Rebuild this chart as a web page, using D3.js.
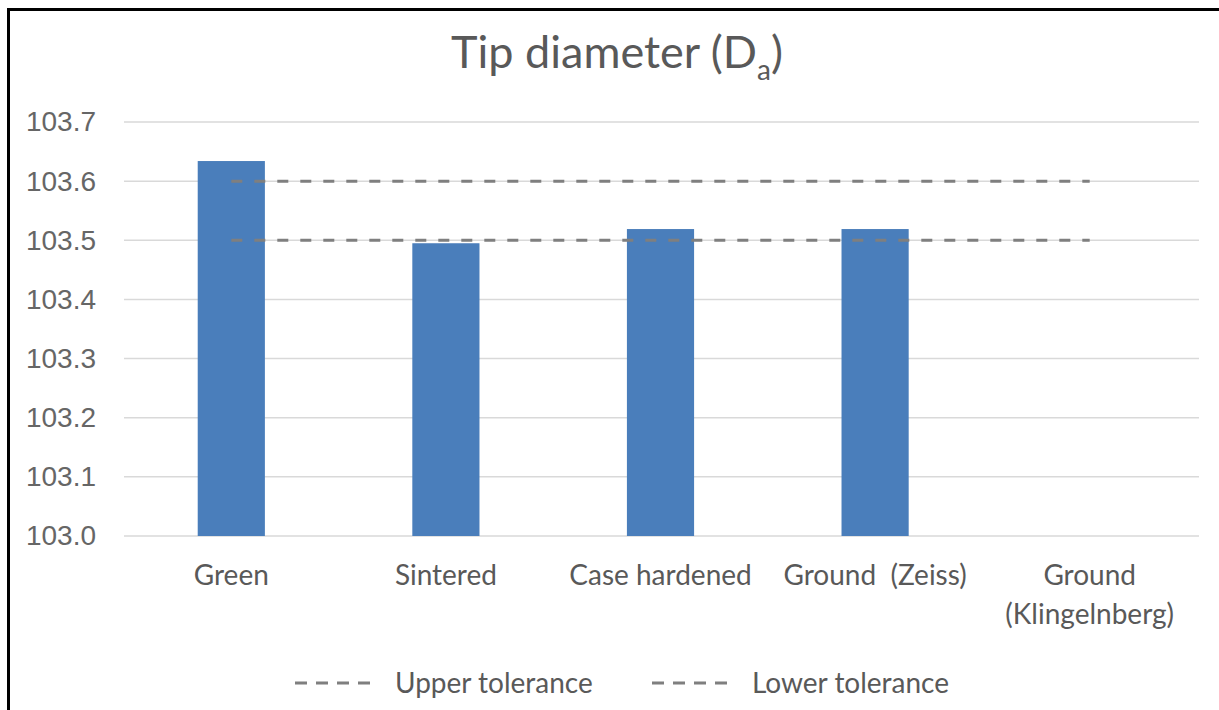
<!DOCTYPE html>
<html>
<head>
<meta charset="utf-8">
<script src="https://cdn.jsdelivr.net/npm/d3@7"></script>
<style>
  html, body { margin: 0; padding: 0; background: #fff; }
  svg { display: block; }
</style>
</head>
<body>
<svg id="chart" width="1219" height="710"></svg>
<script>
const categories = ["Green", "Sintered", "Case hardened", "Ground  (Zeiss)", "Ground\n(Klingelnberg)"];
const values = [103.634, 103.495, 103.519, 103.519, null];
const upperTolerance = [103.6, 103.6, 103.6, 103.6, 103.6];
const lowerTolerance = [103.5, 103.5, 103.5, 103.5, 103.5];
const yTicks = [103.0, 103.1, 103.2, 103.3, 103.4, 103.5, 103.6, 103.7];
const yTickLabels = ["103.0", "103.1", "103.2", "103.3", "103.4", "103.5", "103.6", "103.7"];
const seriesNames = ["Upper tolerance", "Lower tolerance"];

const svg = d3.select("#chart");
const W = 1219, H = 710;
svg.append("rect").attr("width", W).attr("height", H).attr("fill", "#fff");

const x = d3.scaleBand().domain(categories).range([124, 1197]).padding(0);
const y = d3.scaleLinear().domain([103.0, 103.7]).range([536, 122]);

const textColor = "#595959";
const sans = "Lato, 'Open Sans', sans-serif";

// gridlines
svg.append("g").selectAll("line").data(yTicks).join("line")
  .attr("x1", 124).attr("x2", 1199)
  .attr("y1", d => y(d)).attr("y2", d => y(d))
  .attr("stroke", "#d9d9d9").attr("stroke-width", 1.5);

// y axis labels
const yAxis = d3.axisLeft(y).tickValues(yTicks).tickFormat((d, i) => yTickLabels[i]).tickSize(0).tickPadding(0);
const gy = svg.append("g").attr("transform", "translate(96,0)").call(yAxis);
gy.select(".domain").remove();
gy.selectAll("text")
  .attr("font-family", "'Liberation Sans', Arial, sans-serif")
  .attr("font-size", 28).attr("fill", "#666")
  .attr("dy", "0.32em");

// bars
const barW = x.bandwidth() * 0.313;
svg.append("g").selectAll("rect").data(categories.map((c, i) => ({c, v: values[i]})).filter(d => d.v != null))
  .join("rect")
  .attr("x", d => x(d.c) + x.bandwidth() / 2 - barW / 2)
  .attr("width", barW)
  .attr("y", d => y(d.v))
  .attr("height", d => y(103.0) - y(d.v))
  .attr("fill", "#4a7ebb");

// tolerance lines
const line = d3.line().x(d => x(d.c) + x.bandwidth() / 2).y(d => y(d.v));
[upperTolerance, lowerTolerance].forEach(arr => {
  svg.append("path")
    .datum(categories.map((c, i) => ({c, v: arr[i]})))
    .attr("d", line)
    .attr("fill", "none")
    .attr("stroke", "#7f7f7f")
    .attr("stroke-width", 3)
    .attr("stroke-dasharray", "11,12");
});

// x labels
const gx = svg.append("g");
categories.forEach(c => {
  const lines = c.split("\n");
  const t = gx.append("text")
    .attr("x", x(c) + x.bandwidth() / 2)
    .attr("y", 585)
    .attr("text-anchor", "middle")
    .attr("font-family", sans)
    .attr("font-size", 28)
    .attr("fill", textColor)
    .style("white-space", "pre");
  lines.forEach((l, i) => {
    t.append("tspan").attr("x", x(c) + x.bandwidth() / 2).attr("dy", i === 0 ? 0 : 39).text(l);
  });
});

// title
const title = svg.append("text")
  .attr("x", 617).attr("y", 68)
  .attr("text-anchor", "middle")
  .attr("font-family", sans)
  .attr("font-size", 45)
  .attr("fill", textColor);
title.append("tspan").text("Tip diameter (D");
title.append("tspan").attr("font-size", 28).attr("dy", 12).text("a");
title.append("tspan").attr("dy", -12).text(")");

// legend
const legendX = [295, 652];
seriesNames.forEach((name, i) => {
  svg.append("line")
    .attr("x1", legendX[i]).attr("x2", legendX[i] + 82)
    .attr("y1", 683).attr("y2", 683)
    .attr("stroke", "#7f7f7f").attr("stroke-width", 3)
    .attr("stroke-dasharray", "12,9");
  svg.append("text")
    .attr("x", legendX[i] + 100).attr("y", 693)
    .attr("font-family", sans)
    .attr("font-size", 28)
    .attr("fill", textColor)
    .text(name);
});

// frame (left and top edges)
svg.append("path")
  .attr("d", `M8.5,${H} L8.5,9.5 L${W},9.5`)
  .attr("fill", "none")
  .attr("stroke", "#000")
  .attr("stroke-width", 3);
</script>
</body>
</html>
